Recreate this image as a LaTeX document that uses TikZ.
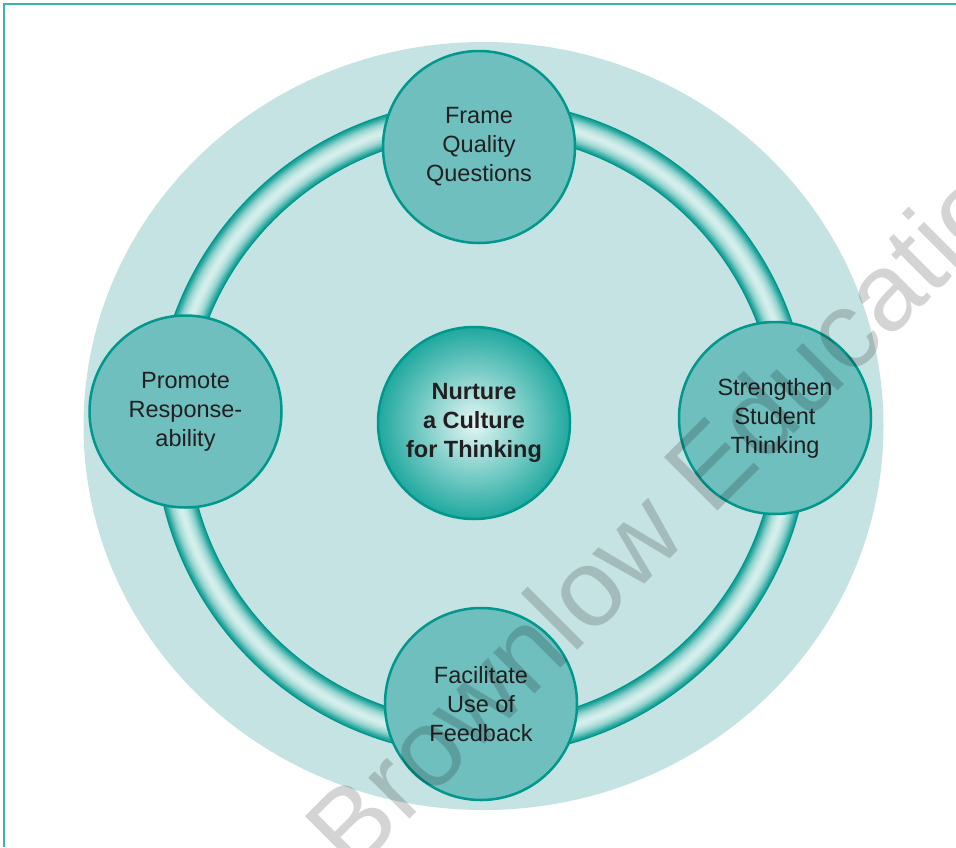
\documentclass[tikz,border=0pt]{standalone}
\usepackage{fontspec}
\setmainfont{Liberation Sans}
\usetikzlibrary{shadings}

\definecolor{sea}{HTML}{C5E3E2}
\definecolor{petal}{HTML}{6FBFBF}
\definecolor{rim}{HTML}{00978C}
\definecolor{tube}{HTML}{D4EEEC}
\definecolor{edge}{HTML}{3DB3AB}
\definecolor{core}{HTML}{E6F7F5}
\definecolor{shell}{HTML}{1FA89F}
\definecolor{ink}{HTML}{231F20}

\begin{document}
\begin{tikzpicture}[x=1pt,y=-1pt,
  station/.style={circle,draw=rim,line width=2.5pt,fill=petal,minimum size=192pt,
    inner sep=0pt,align=center,text=ink,font=\fontsize{23.5}{29}\selectfont},
  hub/.style={station,shading=radial,inner color=core,outer color=shell,
    font=\bfseries\fontsize{23.5}{29}\selectfont}]
  \useasboundingbox (0,0) rectangle (956,847);
  % page frame
  \draw[edge,line width=2pt] (4,847) -- (4,4) -- (956,4);
  % backdrop disc
  \fill[sea] (483.5,426) ellipse [x radius=400, y radius=384];
  % tube ring, dark at the edges and pale in the middle
  \coordinate (ring) at (482,428);
  \foreach \w/\tone in {34/0,31/14,28/28,25/42,22/56,19/68,16/78,12/88,8/95,4/100}
    \draw[line width=\w pt,tube!\tone!rim] (ring) circle [radius=311];
  % the five circles
  \node[hub] (culture) at (474,423) {Nurture\\a Culture\\for Thinking};
  \node[station] (questions) at (479,147) {Frame\\Quality\\Questions};
  \node[station] (thinking) at (775,418) {Strengthen\\Student\\Thinking};
  \node[station] (feedback) at (481,704) {Facilitate\\Use of\\Feedback};
  \node[station] (promote) at (185.5,411.5) {Promote\\Response-\\ability};
  % publisher stamp
  \node[rotate=45,text=black,text opacity=0.17,font=\fontsize{110}{110}\selectfont]
    (stamp) at (677,496) {Brownlow Education};
\end{tikzpicture}
\end{document}
